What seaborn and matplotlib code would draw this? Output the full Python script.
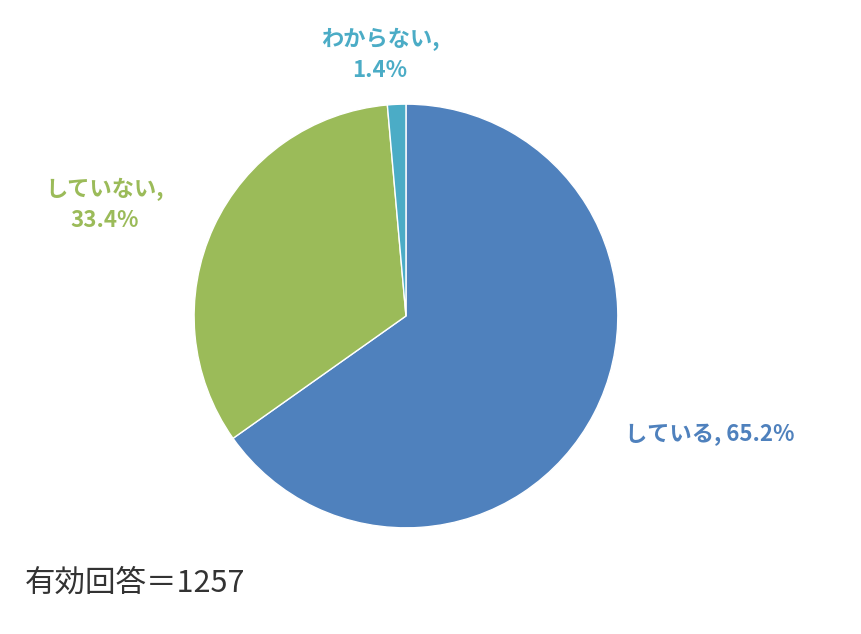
import matplotlib
matplotlib.use("Agg")
import matplotlib.pyplot as plt
import seaborn as sns

sns.set_theme(style="white")
plt.rcParams['font.family'] = ['Noto Sans CJK JP', 'DejaVu Sans']

labels = ["している", "していない", "わからない"]
values = [65.2, 33.4, 1.4]
colors = ["#4F81BD", "#9BBB59", "#4BACC6"]
note = "有効回答＝1257"

fig = plt.figure(figsize=(8.61, 6.34), dpi=100)
ax = fig.add_axes([0.4715 - 0.2486, 0.5016 - 0.3375, 0.4972, 0.675])
ax.pie(values, colors=colors, startangle=90, counterclock=False,
       wedgeprops=dict(edgecolor="white", linewidth=1))
ax.set_xlim(-1.01, 1.01)
ax.set_ylim(-1.01, 1.01)
ax.set_aspect("equal")

fig.text(710/861, 1-435/634, f"{labels[0]}, {values[0]}%", color=colors[0],
         fontsize=16, fontweight="bold", ha="center", va="center")
fig.text(105/861, 1-205/634, f"{labels[1]},\n{values[1]}%", color=colors[1],
         fontsize=16, fontweight="bold", ha="center", va="center", linespacing=1.4)
fig.text(380/861, 1-55/634, f"{labels[2]},\n{values[2]}%", color=colors[2],
         fontsize=16, fontweight="bold", ha="center", va="center", linespacing=1.4)
fig.text(25/861, 1-583/634, note, color="#333333", fontsize=22, ha="left", va="center")

fig.savefig("out.png", dpi=100)
